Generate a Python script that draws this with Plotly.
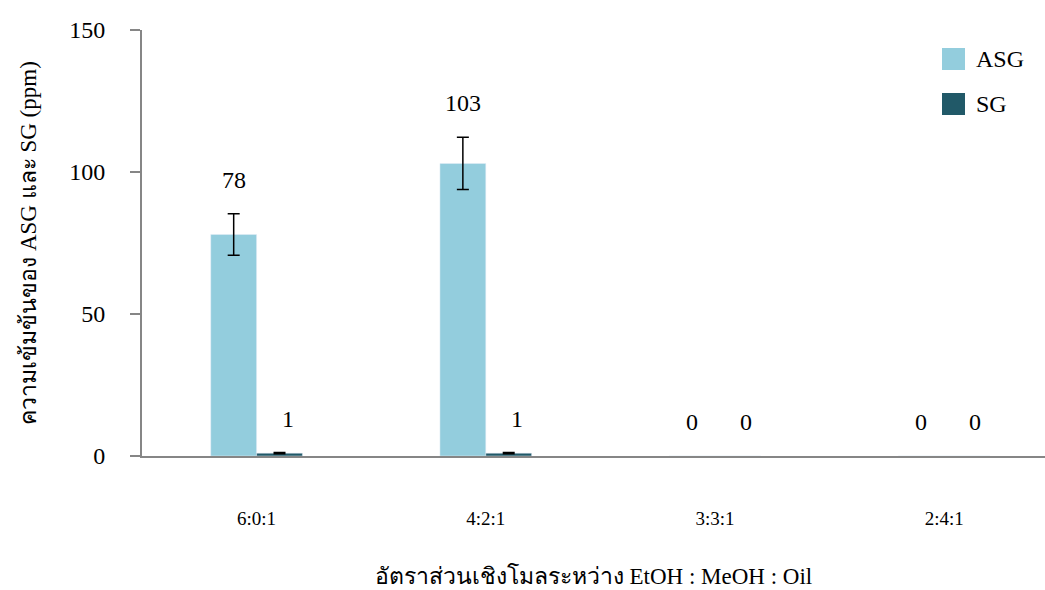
import plotly.graph_objects as go

# Molar ratios EtOH : MeOH : Oil
categories = ["6:0:1", "4:2:1", "3:3:1", "2:4:1"]
asg_values = [78, 103, 0, 0]
asg_errors = [7.3, 9.2, 0, 0]
sg_values = [1, 1, 0, 0]
sg_errors = [0.2, 0.2, 0, 0]
y_ticks = [0, 50, 100, 150]

ASG_COLOR = "#93CDDD"
SG_COLOR = "#215968"
AXIS_COLOR = "#868686"
FONT = "Liberation Serif"

x_pos = list(range(len(categories)))


def measured_only(errors):
    # drop trailing zero entries so no error caps are drawn for empty groups
    out = list(errors)
    while out and out[-1] == 0:
        out.pop()
    return out


fig = go.Figure()
fig.add_trace(go.Bar(
    name="ASG", x=x_pos, y=asg_values, marker_color=ASG_COLOR,
    error_y=dict(type="data", array=measured_only(asg_errors), color="black",
                 thickness=1.5, width=6),
))
fig.add_trace(go.Bar(
    name="SG", x=x_pos, y=sg_values, marker_color=SG_COLOR,
    error_y=dict(type="data", array=measured_only(sg_errors), color="black",
                 thickness=1.5, width=6),
))

# value labels above each bar
for i in x_pos:
    fig.add_annotation(x=i, y=asg_values[i] + asg_errors[i], text=str(asg_values[i]),
                       showarrow=False, xshift=-23, yshift=34,
                       font=dict(family=FONT, size=24, color="black"))
    fig.add_annotation(x=i, y=sg_values[i] + sg_errors[i], text=str(sg_values[i]),
                       showarrow=False, xshift=31, yshift=34,
                       font=dict(family=FONT, size=24, color="black"))

# legend drawn as swatches with labels
legend_items = [("ASG", ASG_COLOR), ("SG", SG_COLOR)]
for k, (label, color) in enumerate(legend_items):
    top = 48 + k * 45
    fig.add_shape(type="rect", xref="paper", yref="paper",
                  x0=(942 - 142) / 903, x1=(965 - 142) / 903,
                  y0=(456 - top) / 426, y1=(456 - top - 22) / 426,
                  fillcolor=color, line_width=0)
    fig.add_annotation(xref="paper", yref="paper", x=(974 - 142) / 903,
                       y=(456 - top - 11) / 426, text=label, showarrow=False,
                       xanchor="left", yanchor="middle",
                       font=dict(family=FONT, size=24, color="black"))

fig.update_layout(
    barmode="group", bargap=0.6, bargroupgap=0,
    width=1045, height=590,
    margin=dict(l=142, r=0, t=30, b=134),
    plot_bgcolor="white", paper_bgcolor="white",
    showlegend=False,
    font=dict(family=FONT, color="black"),
)
fig.update_xaxes(
    range=[-0.5, 3.44], tickvals=x_pos, ticktext=categories,
    showgrid=False, zeroline=False, showline=True, linecolor=AXIS_COLOR, linewidth=2,
    ticks="", ticklabelstandoff=44, tickfont=dict(family=FONT, size=19, color="black"),
    title=dict(text="อัตราส่วนเชิงโมลระหว่าง EtOH : MeOH : Oil", standoff=40,
               font=dict(family=FONT, size=23, color="black")),
)
fig.update_yaxes(
    range=[0, 150], tickvals=y_ticks, showgrid=False, zeroline=False,
    showline=True, linecolor=AXIS_COLOR, linewidth=2,
    ticks="outside", ticklen=10, tickwidth=2, tickcolor=AXIS_COLOR,
    ticklabelstandoff=20, tickfont=dict(family=FONT, size=24, color="black"),
    title=dict(text="ความเข้มข้นของ ASG และ SG (ppm)", standoff=26,
               font=dict(family=FONT, size=23, color="black")),
)

fig.write_html("out.html")
